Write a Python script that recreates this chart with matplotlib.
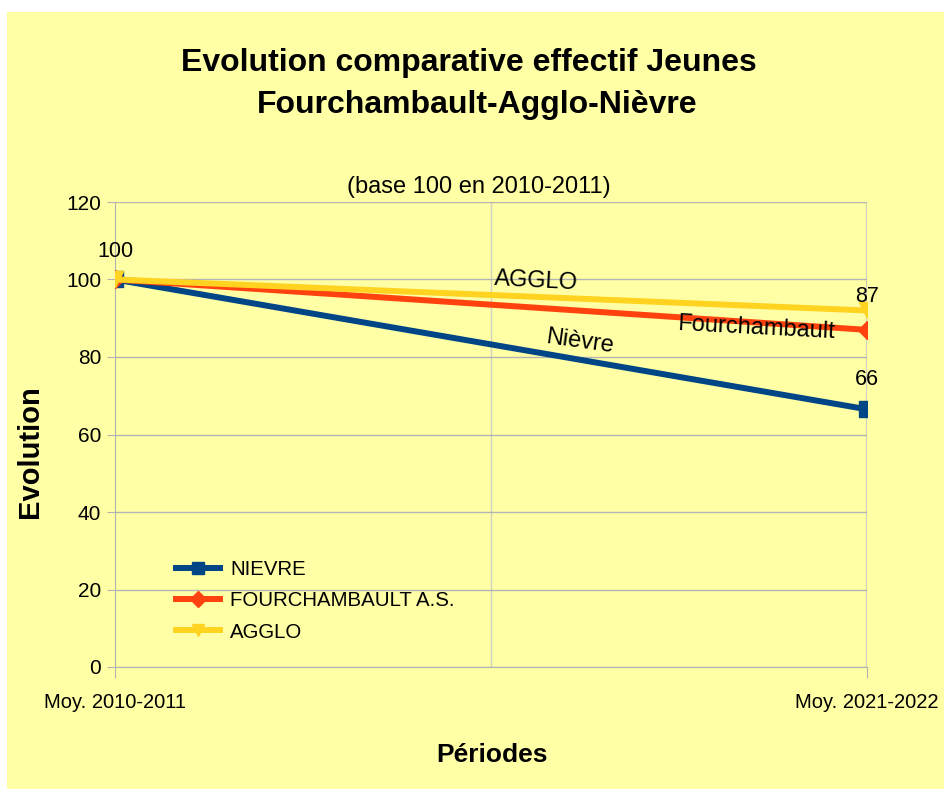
import matplotlib.pyplot as plt
from matplotlib.patches import Rectangle

# data
periodes = ['Moy. 2010-2011', 'Moy. 2021-2022']
nievre = [100, 66.5]
fourchambault = [100, 87]
agglo = [100, 92]

BG = '#ffffa6'
SANS = ['Liberation Sans', 'DejaVu Sans']

plt.rcParams['font.family'] = SANS

fig = plt.figure(figsize=(9.44, 7.89), dpi=100, facecolor='white')
fig.patches.append(Rectangle((7 / 944, 0), 1, 1 - 12 / 789, transform=fig.transFigure,
                             facecolor=BG, edgecolor='none', zorder=-10))

ax = fig.add_axes([115 / 944, 1 - 667 / 789, (867 - 115) / 944, (667 - 202) / 789])
ax.set_facecolor(BG)

x = list(range(len(periodes)))
ax.plot(x, nievre, color='#004586', lw=4.3, marker='s', ms=11, label='NIEVRE', zorder=3)
ax.plot(x, fourchambault, color='#ff420e', lw=4.3, marker='D', ms=9, label='FOURCHAMBAULT A.S.', zorder=4)
ax.plot(x, agglo, color='#ffd320', lw=4.3, marker='v', ms=11, label='AGGLO', zorder=5)

ax.set_xlim(0, 1)
ax.set_ylim(0, 120)
ax.set_yticks(range(0, 121, 20))
ax.set_xticks(x)
ax.set_xticklabels(periodes, fontsize=14.5)
ax.tick_params(axis='y', labelsize=15, length=6, color='#b3b3b3', pad=4)
ax.tick_params(axis='x', length=8, color='#b3b3b3', pad=11)

ax.grid(axis='y', color='#b3b3b3', lw=1)
ax.axvline(0.5, color='#d0d0c0', lw=1, zorder=0)
ax.axvline(1, color='#d0d0c0', lw=1.5, zorder=0)
for s in ['top', 'right']:
    ax.spines[s].set_visible(False)
for s in ['left', 'bottom']:
    ax.spines[s].set_color('#b3b3b3')

# data labels
ax.text(0, 104.5, '100', ha='center', va='bottom', fontsize=15.5, zorder=7)
ax.text(1, 93, '87', ha='center', va='bottom', fontsize=15.5, zorder=7)
ax.text(1, 71.5, '66', ha='center', va='bottom', fontsize=15.5, zorder=7)

# inline series names
ax.text(0.56, 99.5, 'AGGLO', ha='center', va='center', fontsize=17, rotation=-3, zorder=7)
ax.text(0.853, 87.5, 'Fourchambault', ha='center', va='center', fontsize=17, rotation=-3, zorder=7)
ax.text(0.618, 84, 'Nièvre', ha='center', va='center', fontsize=17, rotation=-8, zorder=7)

# titles
fig.text(469 / 944, 1 - 63 / 789, 'Evolution comparative effectif Jeunes',
         ha='center', va='center', fontsize=23, fontweight='bold')
fig.text(477 / 944, 1 - 105 / 789, 'Fourchambault-Agglo-Nièvre',
         ha='center', va='center', fontsize=23, fontweight='bold')
fig.text(479 / 944, 1 - 187 / 789, '(base 100 en 2010-2011)', ha='center', va='center',
         fontsize=17)
fig.text(30 / 944, 1 - 452 / 789, 'Evolution', ha='center', va='center', rotation=90,
         fontsize=21, fontweight='bold')
fig.text(492 / 944, 1 - 755 / 789, 'Périodes', ha='center', va='center',
         fontsize=19, fontweight='bold')

ax.legend(loc='upper left', bbox_to_anchor=(55 / 752, 1 - 352 / 465), frameon=False,
          fontsize=14.7, handlelength=2.15, handletextpad=0.5, labelspacing=0.6,
          markerscale=0.85, borderaxespad=0, borderpad=0.3)

fig.savefig('out.png', dpi=100, facecolor='white')
